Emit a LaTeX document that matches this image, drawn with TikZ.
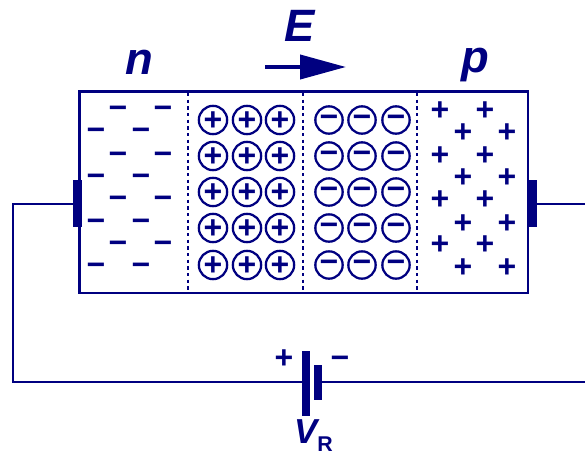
\documentclass[tikz,border=0pt]{standalone}
\usepackage{fontspec}
\setmainfont{Liberation Sans}
\usepackage{tikz}
\usetikzlibrary{arrows.meta}
\definecolor{diodeblue}{RGB}{0,0,128}
\tikzset{
    charge/.style={inner sep=0pt, text=diodeblue, font=\bfseries\fontsize{24}{24}\selectfont, text height=16pt, text depth=0pt},
    ion/.style={charge, circle, draw=diodeblue, line width=1.7pt, minimum size=20.5pt},
    ionminus/.style={ion, text height=11.5pt},
    plate/.style={fill=diodeblue, inner sep=0pt, minimum width=#1pt, anchor=center},
    typelabel/.style={text=diodeblue, font=\bfseries\itshape\fontsize{34}{34}\selectfont, inner sep=0pt}
}
\begin{document}
\begin{tikzpicture}[x=0.75pt, y=-0.75pt]
    \useasboundingbox (0,0) rectangle (585,454);
    \draw [diodeblue, line width=2.2pt] (79.5,91.5) rectangle (528,293);
    \draw [diodeblue, line width=2pt, dash pattern=on 2.5pt off 2.5pt] (188,93) -- (188,293);
    \draw [diodeblue, line width=2pt, dash pattern=on 2.5pt off 2.5pt] (303,93) -- (303,293);
    \draw [diodeblue, line width=2pt, dash pattern=on 2.5pt off 2.5pt] (417,93) -- (417,293);
    % fixed charges
    \foreach \row/\y in {1/120,2/156,3/192,4/228,5/265} {
        \foreach \col/\x in {1/213,2/247,3/280}
            \node (pos\row-\col) [ion] at (\x,\y) {+};
        \foreach \col/\x in {1/329,2/362,3/396}
            \node (neg\row-\col) [ionminus] at (\x,\y) {−};
    }
    % free carriers
    \foreach \y [count=\i] in {108,154,198,243} {
        \node (elecA\i) [charge] at (118,\y) {−};
        \node (elecB\i) [charge] at (163,\y) {−};
    }
    \foreach \y [count=\i] in {130,176,221,265} {
        \node (elecC\i) [charge] at (96,\y) {−};
        \node (elecD\i) [charge] at (141,\y) {−};
    }
    \foreach \y [count=\i] in {110,155,199,244} {
        \node (holeA\i) [charge] at (440,\y) {+};
        \node (holeB\i) [charge] at (485,\y) {+};
    }
    \foreach \y [count=\i] in {132,177,223,267} {
        \node (holeC\i) [charge] at (463,\y) {+};
        \node (holeD\i) [charge] at (507,\y) {+};
    }
    \node (nlabel) [typelabel] at (139,62) {n};
    \node (plabel) [typelabel] at (475,65) {p};
    \node (fieldlabel) [typelabel] at (300,26) {E};
    \coordinate (fieldstart) at (265,67);
    \coordinate (fieldend) at (346,67);
    \draw [diodeblue, line width=3pt, -{Triangle[length=34.5pt, width=18pt]}] (fieldstart) -- (fieldend);
    % contacts and circuit
    \node (leftplate) [plate=7, minimum height=35pt] at (77.5,203.5) {};
    \node (rightplate) [plate=7, minimum height=35pt] at (532,203.5) {};
    \node (longplate) [plate=5.5, minimum height=48.5pt] at (306,383.5) {};
    \node (shortplate) [plate=5.5, minimum height=26pt] at (318,382.5) {};
    \coordinate (leftbend) at (13,204);
    \coordinate (rightend) at (585,204);
    \coordinate (batteryend) at (585,382);
    \draw [diodeblue, line width=2.2pt] (leftplate.west |- 0,204) -- (leftbend) |- (longplate.west |- 0,382);
    \draw [diodeblue, line width=2.2pt] (rightplate.east |- 0,204) -- (rightend);
    \draw [diodeblue, line width=2.2pt] (shortplate.east |- 0,382) -- (batteryend);
    \node (battplus) [charge] at (284,358) {+};
    \node (battminus) [charge] at (340,358) {−};
    \node (vrlabel) [text=diodeblue, inner sep=0pt, font=\bfseries] at (313.5,435.5)
        {{\itshape\fontsize{26}{26}\selectfont V}\raisebox{-6pt}{\fontsize{16}{16}\selectfont R}};
\end{tikzpicture}
\end{document}
